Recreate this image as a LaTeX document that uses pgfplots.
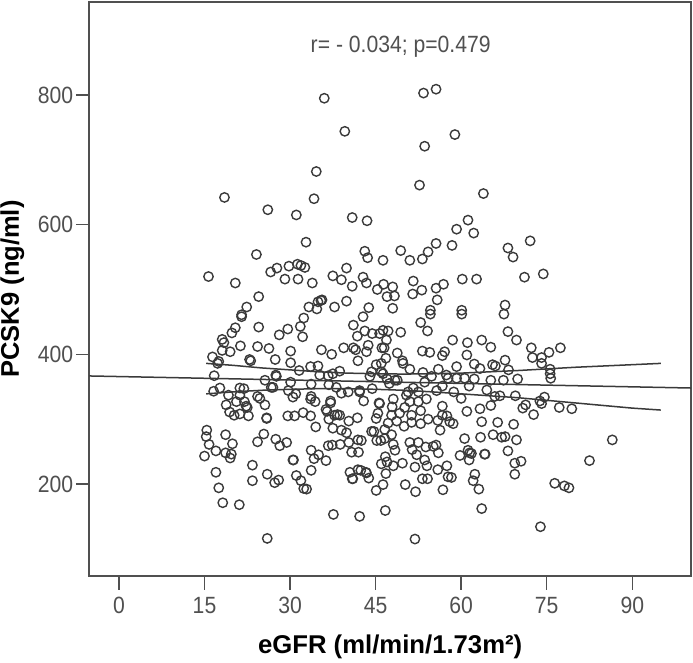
\documentclass[border=0pt]{standalone}
\usepackage{pgfplots}
\usepackage{pgfplotstable}
\usepackage{fontspec}
\setmainfont{Liberation Sans}
\newfontfamily\narrowf[FakeStretch=0.9]{Liberation Sans}
\pgfplotsset{compat=1.18}
\definecolor{ink}{HTML}{3A3A3A}
\definecolor{framec}{HTML}{505050}
\definecolor{labelc}{HTML}{505050}
\pgfplotstableread{
x y
36.0 795
39.6 744
53.4 803
55.6 809
53.6 721
34.6 682
52.7 661
34.2 640
18.5 642
26.1 623
31.1 615
40.9 611
43.5 606
32.8 573
24.1 554
43.1 559
43.6 549
46.3 545
49.4 560
51.0 545
53.2 547
54.2 558
55.6 571
29.8 536
27.7 533
26.6 527
31.3 539
31.9 537
32.6 534
15.7 520
20.4 510
29.1 516
31.4 516
33.9 510
37.5 521
39.0 515
39.9 533
42.8 519
43.4 510
40.9 505
45.3 500
46.4 508
48.0 504
47.0 489
48.3 490
51.6 513
51.5 493
53.1 499
55.6 502
55.8 484
24.5 489
22.4 473
33.3 473
34.9 481
35.6 484
35.4 483
39.9 482
37.8 473
34.7 470
43.8 472
48.0 471
58.9 739
63.9 648
61.2 607
59.2 593
62.2 587
72.1 575
68.2 564
69.1 550
58.4 568
74.4 524
71.1 519
62.7 516
60.2 516
56.9 508
67.7 476
60.1 468
54.6 468
21.5 461
21.5 458
24.5 442
20.4 441
19.8 433
18.1 423
18.4 418
19.5 404
18.1 406
21.3 413
24.3 412
26.3 409
16.4 396
17.5 389
17.3 386
22.9 392
23.1 390
27.4 392
30.1 405
30.1 387
28.1 430
29.6 439
31.8 443
32.4 456
32.2 427
35.5 407
37.3 400
39.4 410
41.1 445
41.8 428
41.1 410
41.5 407
41.9 390
31.6 375
33.6 381
34.9 382
35.2 368
36.7 367
37.5 370
38.7 374
27.5 368
27.6 366
25.6 360
30.1 357
33.7 354
16.7 367
26.7 349
27.0 349
29.7 344
31.0 339
30.5 334
33.7 335
33.6 331
34.4 327
17.7 348
16.6 343
21.2 348
21.9 347
19.2 337
21.2 337
24.3 335
24.7 332
20.6 327
22.0 327
18.8 322
22.3 320
22.5 318
25.6 322
19.4 311
20.2 306
21.2 308
22.7 305
25.9 302
25.9 301
29.6 305
30.8 305
32.3 310
33.6 305
34.5 288
15.4 283
15.3 273
15.8 261
18.7 276
19.9 262
17.0 251
18.7 248
19.7 246
19.5 240
15.0 243
25.4 277
24.3 265
27.5 269
28.2 259
29.4 264
33.7 252
35.0 245
34.2 239
36.3 236
30.5 237
30.6 237
23.4 229
17.0 218
26.0 215
23.4 205
28.0 206
27.3 202
31.1 213
31.9 205
32.4 193
32.9 192
33.7 221
17.5 194
18.2 171
21.1 168
26.0 116
37.6 153
42.2 150
36.7 259
37.4 260
38.8 261
40.3 264
40.8 249
41.9 268
42.0 249
40.5 218
40.9 208
41.0 208
41.9 222
37.5 286
39.0 283
39.9 279
40.3 297
41.8 302
36.8 300
36.3 315
36.5 312
37.1 328
37.1 325
37.8 306
38.7 306
38.3 307
39.0 340
38.1 349
36.8 353
40.2 342
42.2 344
42.8 458
67.5 462
60.1 462
54.6 462
52.9 449
54.1 436
68.2 435
69.7 422
43.1 436
44.4 432
45.7 432
46.3 437
47.2 436
49.4 434
46.9 422
43.7 414
43.4 404
46.1 410
46.5 410
48.8 402
46.8 394
46.0 386
49.7 390
49.8 386
51.0 377
53.2 405
54.5 403
57.1 404
56.7 398
58.5 422
61.1 418
61.0 399
63.6 422
65.2 411
62.3 385
63.3 378
65.5 384
66.0 382
67.7 391
68.3 376
59.2 381
56.0 377
57.4 368
57.7 363
53.3 372
54.8 366
44.3 373
44.0 366
45.1 384
46.0 373
46.3 370
47.0 362
47.4 355
48.4 360
48.8 360
53.6 357
59.2 363
60.6 363
62.3 362
61.4 351
65.2 360
67.4 360
69.9 362
64.5 345
65.9 335
66.8 336
69.5 336
56.7 351
55.7 344
58.7 342
60.0 332
44.4 347
42.2 342
42.9 328
45.6 325
45.7 324
48.1 331
47.9 319
50.7 342
50.4 337
51.6 348
52.5 342
52.5 327
53.9 331
51.0 327
50.1 318
52.9 313
56.7 320
56.7 306
57.5 305
54.2 300
55.9 298
56.3 283
58.0 296
58.6 293
61.0 312
63.3 316
65.2 321
63.6 296
66.4 295
69.2 292
45.4 309
45.1 301
47.8 306
47.2 294
49.2 309
48.7 297
50.0 289
51.3 306
51.3 295
52.9 293
46.6 284
47.8 276
44.3 281
44.7 281
45.2 267
45.9 267
46.6 270
42.5 267
48.1 261
48.4 252
51.0 264
52.5 264
51.4 253
53.8 257
55.1 258
55.6 260
56.0 248
60.6 270
63.4 272
65.6 276
67.1 272
67.7 273
69.7 268
68.2 251
59.8 244
61.2 252
61.5 248
61.8 247
61.4 237
64.2 246
64.1 246
52.2 245
46.7 242
47.0 234
46.0 231
48.1 228
49.7 232
51.9 226
53.6 237
54.0 228
55.9 222
57.5 228
69.4 232
69.4 215
62.4 215
62.1 205
63.1 192
57.7 211
58.3 210
53.2 208
54.1 208
46.8 216
42.4 221
43.3 218
43.4 217
43.8 209
46.3 199
45.1 190
50.2 199
52.0 188
56.8 191
46.7 159
63.6 162
51.9 115
72.3 410
77.4 410
72.5 395
74.1 395
74.1 386
75.4 403
75.6 377
75.6 370
75.7 363
74.6 334
73.8 328
74.1 324
71.3 322
70.8 317
72.7 307
77.2 318
79.4 316
70.5 235
86.5 268
82.5 236
76.4 201
78.1 197
78.9 194
73.9 134
}\pointsdata
\pgfplotstableread{
x y
-5.2 366.6
100.3 348
}\fitdata
\pgfplotstableread{
x y
15.3 386
20 383
25 379
30 376
35 373
40 371
45 370
50 369.5
55 370
60 371
65 373
70 375
75 377.5
80 380
85 382
90 384
95 386
}\upperdata
\pgfplotstableread{
x y
15.3 339
20 342
25 344.5
30 346
35 347
40 347
45 346
50 344.5
55 342
60 339
65 336
70 333
75 329
80 325
85 321
90 317
95 314
}\lowerdata
\begin{document}
\begin{tikzpicture}[x=1pt,y=1pt]
\path[use as bounding box] (-89.3,-86) rectangle (603.7,576);
\begin{axis}[
  at={(0,0)}, anchor=south west, scale only axis,
  width=601.7pt, height=574pt,
  xmin=-5.2, xmax=100.3, ymin=58, ymax=943.5,
  axis line style={draw=framec, line width=2pt},
  xtick={0,15,30,45,60,75,90}, ytick={200,400,600,800},
  tick align=outside, xtick pos=bottom, ytick pos=left,
  major tick length=13.5pt,
  tick style={draw=framec, line width=1.4pt},
  /pgf/number format/assume math mode=true,
  ticklabel style={font=\narrowf\fontsize{23.5}{23.5}\selectfont, text=labelc},
  xticklabel style={yshift=-4pt},
  yticklabel style={xshift=1pt},
  xlabel={\textbf{eGFR (ml/min/1.73m²)}},
  ylabel={\textbf{PCSK9 (ng/ml)}},
  xlabel style={font=\fontsize{25.7}{25.7}\selectfont, text=black, at={(axis description cs:0.5,0)}, anchor=center, yshift=-71pt},
  ylabel style={font=\fontsize{25.5}{25.5}\selectfont, text=black, at={(axis description cs:0,0.5)}, anchor=center, yshift=77pt},
  clip=true,
]
\addplot[only marks, mark=o, mark size=4.7pt, mark options={draw=ink, line width=1.4pt}] table[x=x,y=y] {\pointsdata};
\addplot[draw=ink, line width=1.5pt] table[x=x,y=y] {\fitdata};
\addplot[draw=ink, line width=1.5pt] table[x=x,y=y] {\upperdata};
\addplot[draw=ink, line width=1.5pt] table[x=x,y=y] {\lowerdata};
\node[font=\narrowf\fontsize{23.5}{23.5}\selectfont, text=labelc] at (axis cs:49.4,875) {r= - 0.034; p=0.479};
\end{axis}
\end{tikzpicture}
\end{document}
